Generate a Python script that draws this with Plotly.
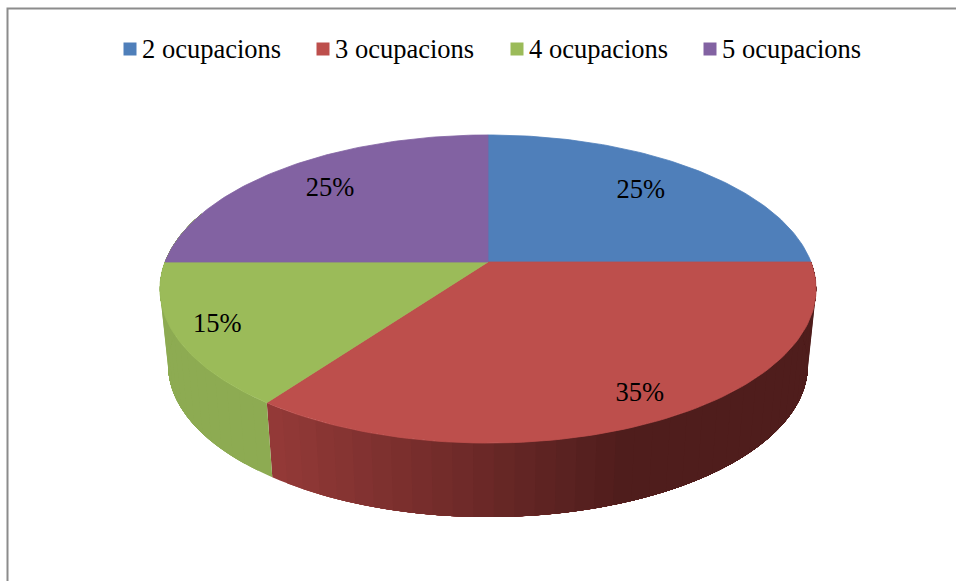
import numpy as np
import plotly.graph_objects as go

categories = ["2 ocupacions", "3 ocupacions", "4 ocupacions", "5 ocupacions"]
shares = [25, 35, 15, 25]
labels = ["25%", "35%", "15%", "25%"]
top_colors = ["#4f7fba", "#bd4f4c", "#9bbb59", "#8262a2"]
side_left = ["#3d6595", "#953a38", "#8dab52", "#65507f"]
side_right = ["#3d6595", "#4f1d1c", "#87a24b", "#65507f"]
label_radius = [0.73, 0.867, 0.875, 0.757]
label_turn = [0.0, -1.0, 0.0, 0.0]

FONT = "Liberation Serif"
FS = 26.5
CX, CY, RX, B, K = 488.0, 262.0, 323.0, 149.3, 0.1753


def top_xy(theta, r=1.0):
    u, v = r * np.sin(theta), r * np.cos(theta)
    w = 1 + K * v
    return CX + RX * u / w, CY - B * v / w


def bottom_xy(theta):
    x, y = top_xy(theta)
    return CX + (x - CX) * 0.975, 365 + (y - 289) * 0.987


def mix(c1, c2, t):
    a = [int(c1[i:i + 2], 16) for i in (1, 3, 5)]
    b = [int(c2[i:i + 2], 16) for i in (1, 3, 5)]
    return "rgb(%d,%d,%d)" % tuple(round(p + (q - p) * t) for p, q in zip(a, b))


fig = go.Figure()
edges = np.cumsum([0] + shares) / sum(shares) * 2 * np.pi

# side wall: only the two front slices show it; it runs round to the silhouette
wall_start, wall_end = np.radians(70), np.radians(290)
for i in (1, 2):
    lo = max(edges[i], wall_start)
    hi = min(edges[i + 1], wall_end) if i == 1 else wall_end
    n = max(2, int((hi - lo) / np.radians(3)))
    steps = np.linspace(lo, hi, n + 1)
    d = steps[1] - steps[0]
    for k in range(n):
        if i == 2:      # painted from the boundary with red out to the left edge
            a, b = steps[k], hi
            mid = steps[k] + d / 2
        else:           # painted from the right edge back to the boundary with green
            a, b = lo, steps[n - k]
            mid = steps[n - k] - d / 2
        t = np.linspace(a, b, 80)
        xt, yt = top_xy(t)
        xb, yb = bottom_xy(t[::-1])
        xm = top_xy(mid)[0]
        f = min(1.0, max(0.0, (xm - 265) / 360))
        fig.add_trace(go.Scatter(
            x=np.r_[xt, xb], y=np.r_[yt, yb], mode="none", fill="toself",
            fillcolor=mix(side_left[i], side_right[i], f),
            showlegend=False, hoverinfo="skip"))

# top face
for i, name in enumerate(categories):
    t = np.linspace(edges[i], edges[i + 1], 90)
    x, y = top_xy(t)
    fig.add_trace(go.Scatter(
        x=np.r_[CX, x, CX], y=np.r_[CY, y, CY], mode="lines", fill="toself", name=name,
        fillcolor=top_colors[i], line=dict(width=0.8, color=top_colors[i]),
        showlegend=False, hoverinfo="skip"))

# value labels
lab_t = (edges[:-1] + edges[1:]) / 2 + np.radians(label_turn)
px, py = top_xy(lab_t, np.array(label_radius))
fig.add_trace(go.Scatter(x=px, y=py, mode="text", text=labels,
                         textfont=dict(family=FONT, size=FS, color="black"),
                         showlegend=False, hoverinfo="skip"))

# legend row
key_x = [130, 323, 517, 710]
fig.add_trace(go.Scatter(x=key_x, y=[49] * 4, mode="markers",
                         marker=dict(symbol="square", size=13, color=top_colors),
                         showlegend=False, hoverinfo="skip"))
fig.add_trace(go.Scatter(x=[k + 12 for k in key_x], y=[51] * 4, mode="text", text=categories,
                         textposition="middle right",
                         textfont=dict(family=FONT, size=FS, color="black"),
                         showlegend=False, hoverinfo="skip"))

fig.update_layout(
    width=956, height=581, margin=dict(l=0, r=0, t=0, b=0),
    paper_bgcolor="white", plot_bgcolor="white", showlegend=False,
    xaxis=dict(range=[0, 956], visible=False),
    yaxis=dict(range=[581, 0], visible=False),
    shapes=[dict(type="rect", xref="x", yref="y", x0=7.5, x1=990, y0=8.5, y1=620,
                 line=dict(color="#8c8c8c", width=2))],
)
fig.write_html("out.html", config=dict(displayModeBar=False),
               post_script="document.body.style.margin='0';document.body.style.overflow='hidden';")
